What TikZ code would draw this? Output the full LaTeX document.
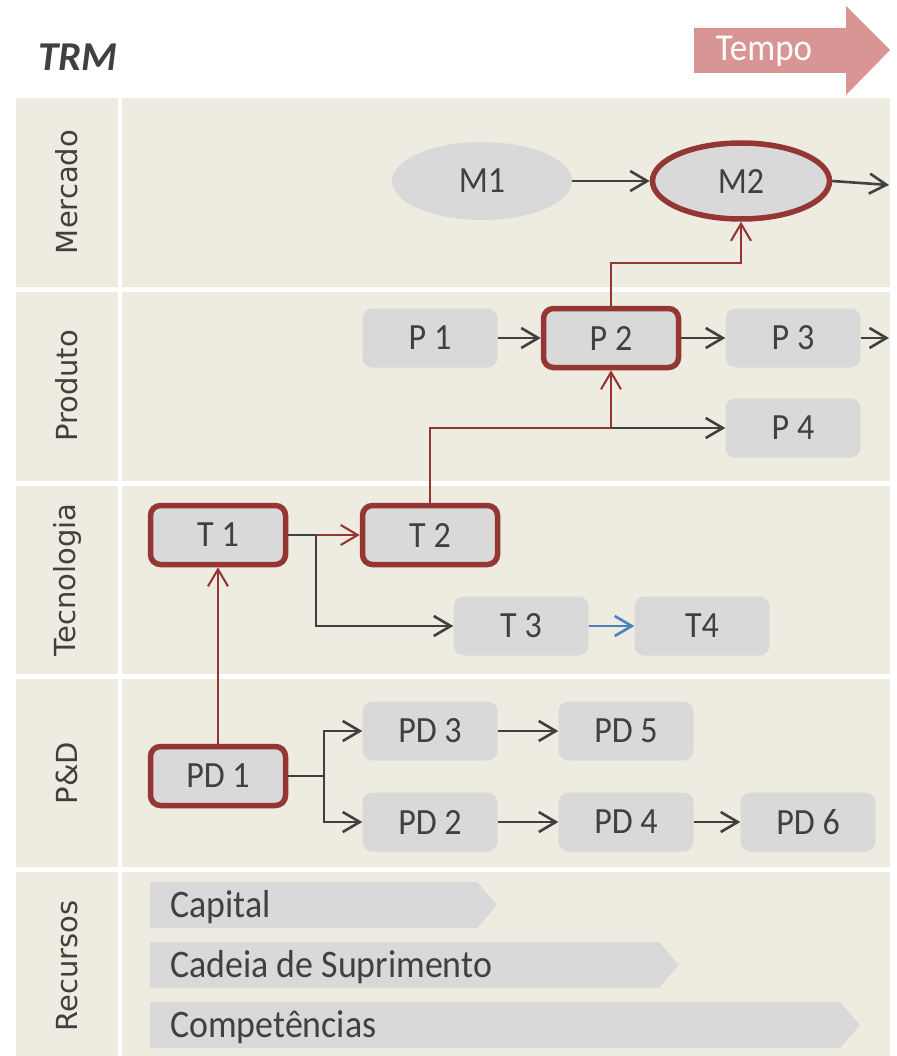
\documentclass[tikz,border=0pt]{standalone}
\usepackage{fontspec}
\setmainfont[FakeStretch=0.92]{Carlito}
\newfontfamily\titlefont{Carlito}
\newfontfamily\lanefont{DejaVu Sans}
\usetikzlibrary{arrows.meta,shapes.geometric}
\definecolor{bandbg}{HTML}{EEEBE0}
\definecolor{boxgray}{HTML}{D9D9D9}
\definecolor{darkred}{HTML}{943634}
\definecolor{txtgray}{HTML}{404040}
\definecolor{linkblue}{HTML}{4F81BD}
\definecolor{tempocol}{HTML}{D99594}

\begin{document}
\begin{tikzpicture}[x=1pt, y=-1pt,
    box/.style={fill=boxgray, rounded corners=10pt, minimum width=135pt, minimum height=59pt, inner sep=0pt, text=txtgray, font=\fontsize{37}{37}\selectfont},
    keybox/.style={box, draw=darkred, line width=5.5pt},
    oval/.style={ellipse, fill=boxgray, minimum width=180pt, minimum height=78pt, inner sep=0pt, text=txtgray, font=\fontsize{37}{37}\selectfont},
    keyoval/.style={oval, draw=darkred, line width=5.5pt, minimum width=177pt, minimum height=76pt},
    lane/.style={rotate=90, text=txtgray, font=\lanefont\fontsize{29}{29}\selectfont},
    link/.style={-{Straight Barb[length=17pt,width=20pt]}, line width=2.6pt, txtgray},
    redlink/.style={link, line width=2.1pt, darkred},
    bluelink/.style={link, linkblue}]
    \useasboundingbox (0,0) rectangle (896,1056);
    \fill[white] (0,0) rectangle (896,1056);

    % lanes
    \foreach \top/\bot in {98/287, 292/481, 486/674, 679/867, 872/1056} {
        \fill[bandbg] (16,\top) rectangle (118,\bot);
        \fill[bandbg] (122,\top) rectangle (890,\bot);
    }
    \draw (67,192) node[lane] (mercado) {Mercado};
    \draw (67,386) node[lane] (produto) {Produto};
    \draw (67,580) node[lane] (tecnologia) {Tecnologia};
    \draw (67,773) node[lane] (pd) {P\&D};
    \draw (67,966) node[lane] (recursos) {Recursos};

    % title and time arrow
    \draw (35,57) node[anchor=west, text=txtgray, font=\titlefont\fontsize{41}{41}\selectfont\bfseries\itshape] (trm) {TRM};
    \fill[tempocol] (694,28) -- (846,28) -- (846,6) -- (890,50) -- (846,95) -- (846,73) -- (694,73) -- cycle;
    \draw (764,51) node[text=white, font=\fontsize{38}{38}\selectfont] (tempo) {Tempo};

    % mercado
    \draw (482,181) node[oval] (m1) {M1};
    \draw (741,181) node[keyoval] (m2) {M2};
    \coordinate (mout) at (889,185);

    % produto
    \draw (430,338) node[box] (p1) {P 1};
    \draw (611,338) node[keybox] (p2) {P 2};
    \draw (793,338) node[box] (p3) {P 3};
    \draw (793,428) node[box] (p4) {P 4};
    \coordinate (pout) at (889,338);
    \coordinate (pm) at (611,263);
    \coordinate (pj) at (611,428);

    % tecnologia
    \draw (218,535) node[keybox] (t1) {T 1};
    \draw (430,535) node[keybox] (t2) {T 2};
    \draw (521,626) node[box] (t3) {T 3};
    \draw (702,626) node[box] (t4) {T4};
    \coordinate (tj) at (316,535);

    % P&D
    \draw (218,776) node[keybox] (pd1) {PD 1};
    \draw (430,731) node[box] (pd3) {PD 3};
    \draw (626,731) node[box] (pd5) {PD 5};
    \draw (430,822) node[box] (pd2) {PD 2};
    \draw (626,822) node[box] (pd4) {PD 4};
    \draw (808,822) node[box] (pd6) {PD 6};
    \coordinate (dj) at (324,776);

    % recursos
    \foreach \y/\tip/\name/\txt in {905/497/capital/Capital, 965/679/cadeia/Cadeia de Suprimento, 1025/860/compet/Competências} {
        \fill[boxgray] (150,\y-23) -- (\tip-20,\y-23) -- (\tip,\y) -- (\tip-20,\y+23) -- (150,\y+23) -- cycle;
        \draw (170,\y+12.5) node[anchor=base west, inner sep=0pt, text=txtgray, font=\fontsize{39}{39}\selectfont] (\name) {\txt};
    }

    \draw[link] (m1) -- (m2);
    \draw[link] (m2.east) -- (mout);
    \draw[link] (p1) -- (p2);
    \draw[link] (p2) -- (p3);
    \draw[link] (p3) -- (pout);
    \draw[redlink] (p2.north) -- (pm) -| (m2.south);
    \draw[redlink] (t2.north) |- (pj) -- (p2.south);
    \draw[link] (pj) -- (p4.west);
    \draw[line width=2.6pt, txtgray] (t1.east) -- (tj);
    \draw[redlink] (tj) -- (t2.west);
    \draw[link] (tj) |- (t3.west);
    \draw[bluelink] (t3) -- (t4);
    \draw[redlink] (pd1.north) -- (t1.south);
    \draw[line width=2.6pt, txtgray] (pd1.east) -- (dj);
    \draw[link] (dj) |- (pd3.west);
    \draw[link] (dj) |- (pd2.west);
    \draw[link] (pd3) -- (pd5);
    \draw[link] (pd2) -- (pd4);
    \draw[link] (pd4) -- (pd6);
\end{tikzpicture}
\end{document}
